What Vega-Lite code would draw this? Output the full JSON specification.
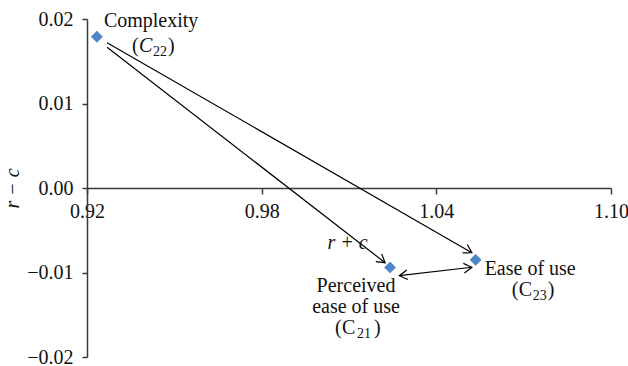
{
  "$schema": "https://vega.github.io/schema/vega-lite/v6.json",
  "width": 524,
  "height": 338,
  "autosize": {"type": "none"},
  "padding": {"left": 87, "top": 19, "right": 17, "bottom": 9},
  "background": "white",
  "config": {
    "view": {"stroke": null},
    "font": "Liberation Serif",
    "axis": {
      "labelFont": "Liberation Serif",
      "labelFontSize": 20,
      "labelColor": "#111111",
      "labelFlush": false,
      "labelOverlap": false,
      "domainColor": "#3a3a3a",
      "domainWidth": 1.5,
      "tickColor": "#3a3a3a",
      "tickWidth": 1.5,
      "grid": false,
      "titleFont": "Liberation Serif",
      "titleFontStyle": "italic",
      "titleFontWeight": "normal",
      "titleFontSize": 20,
      "titleColor": "#111111"
    }
  },
  "datasets": {
    "points": [
      {"name": "Complexity", "label": "Complexity", "code": "22", "x": 0.9234, "y": 0.0179},
      {"name": "Perceived ease of use", "label": "Perceived\nease of use", "code": "21", "x": 1.0241, "y": -0.0094},
      {"name": "Ease of use", "label": "Ease of use", "code": "23", "x": 1.0535, "y": -0.0085}
    ],
    "arrows": [
      {"from": "Complexity", "to": "Perceived ease of use", "line": true, "tx": 0.9269, "ty": 0.01665, "x": 1.0224, "y": -0.00884},
      {"from": "Complexity", "to": "Ease of use", "line": true, "tx": 0.9269, "ty": 0.0172, "x": 1.0522, "y": -0.00766},
      {"from": "Perceived ease of use", "to": "Ease of use", "line": true, "tx": 1.0273, "ty": -0.01038, "x": 1.0522, "y": -0.00938},
      {"from": "Ease of use", "to": "Perceived ease of use", "line": false, "tx": 1.0522, "ty": -0.00938, "x": 1.0273, "y": -0.01038}
    ]
  },
  "encoding": {
    "x": {
      "field": "x",
      "type": "quantitative",
      "scale": {"domain": [0.92, 1.10], "nice": false, "zero": false},
      "axis": {
        "values": [0.92, 0.98, 1.04, 1.10],
        "format": ".2f",
        "offset": -169,
        "tickSize": 6,
        "labelPadding": 7,
        "title": "r + c",
        "titleX": 260,
        "titleY": 60,
        "titleAlign": "center",
        "titleBaseline": "alphabetic"
      }
    },
    "y": {
      "field": "y",
      "type": "quantitative",
      "scale": {"domain": [-0.02, 0.02], "nice": false, "zero": false},
      "axis": {
        "values": [-0.02, -0.01, 0, 0.01, 0.02],
        "format": ".2f",
        "tickSize": 5,
        "labelPadding": 9,
        "title": "r − c",
        "titlePadding": 4
      }
    }
  },
  "layer": [
    {
      "data": {"name": "arrows"},
      "transform": [{"filter": "datum.line"}],
      "mark": {"type": "rule", "color": "black", "strokeWidth": 1.2},
      "encoding": {"x2": {"field": "tx"}, "y2": {"field": "ty"}}
    },
    {
      "data": {"name": "arrows"},
      "transform": [
        {"calculate": "atan2((datum.ty - datum.y) * 8450, (datum.x - datum.tx) * 2911) * 180 / PI", "as": "ang"}
      ],
      "mark": {"type": "point", "shape": "M-1,-0.6L0,0L-1,0.6", "filled": false, "stroke": "black", "strokeWidth": 1.2, "size": 256, "opacity": 1},
      "encoding": {
        "angle": {"field": "ang", "type": "quantitative", "scale": null}
      }
    },
    {
      "data": {"name": "points"},
      "mark": {"type": "point", "shape": "diamond", "filled": true, "color": "#4F86C6", "size": 140, "opacity": 1}
    },
    {
      "data": {"name": "points"},
      "transform": [{"filter": "datum.name == 'Complexity'"}],
      "layer": [
        {"mark": {"type": "text", "font": "Liberation Serif", "fontSize": 20, "color": "#111111", "baseline": "alphabetic", "align": "left", "dx": 7, "dy": -10}, "encoding": {"text": {"field": "label"}}},
        {"mark": {"type": "text", "font": "Liberation Serif", "fontSize": 20, "color": "#111111", "baseline": "alphabetic", "align": "left", "dx": 35, "dy": 15, "text": "("}},
        {"mark": {"type": "text", "font": "Liberation Serif", "fontSize": 20, "color": "#111111", "baseline": "alphabetic", "align": "left", "dx": 42, "dy": 15, "text": "C", "fontStyle": "italic"}},
        {"mark": {"type": "text", "font": "Liberation Serif", "fontSize": 14, "color": "#111111", "baseline": "alphabetic", "align": "left", "dx": 56, "dy": 19}, "encoding": {"text": {"field": "code"}}},
        {"mark": {"type": "text", "font": "Liberation Serif", "fontSize": 20, "color": "#111111", "baseline": "alphabetic", "align": "left", "dx": 71, "dy": 15, "text": ")"}}
      ]
    },
    {
      "data": {"name": "points"},
      "transform": [{"filter": "datum.name == 'Perceived ease of use'"}],
      "layer": [
        {"mark": {"type": "text", "font": "Liberation Serif", "fontSize": 20, "color": "#111111", "baseline": "alphabetic", "align": "center", "dx": -34, "dy": 25, "lineBreak": "\n", "lineHeight": 21}, "encoding": {"text": {"field": "label"}}},
        {"mark": {"type": "text", "font": "Liberation Serif", "fontSize": 20, "color": "#111111", "baseline": "alphabetic", "align": "left", "dx": -55, "dy": 67, "text": "("}},
        {"mark": {"type": "text", "font": "Liberation Serif", "fontSize": 20, "color": "#111111", "baseline": "alphabetic", "align": "left", "dx": -48, "dy": 67, "text": "C"}},
        {"mark": {"type": "text", "font": "Liberation Serif", "fontSize": 14, "color": "#111111", "baseline": "alphabetic", "align": "left", "dx": -33, "dy": 71}, "encoding": {"text": {"field": "code"}}},
        {"mark": {"type": "text", "font": "Liberation Serif", "fontSize": 20, "color": "#111111", "baseline": "alphabetic", "align": "left", "dx": -16, "dy": 67, "text": ")"}}
      ]
    },
    {
      "data": {"name": "points"},
      "transform": [{"filter": "datum.name == 'Ease of use'"}],
      "layer": [
        {"mark": {"type": "text", "font": "Liberation Serif", "fontSize": 20, "color": "#111111", "baseline": "alphabetic", "align": "left", "dx": 9, "dy": 15}, "encoding": {"text": {"field": "label"}}},
        {"mark": {"type": "text", "font": "Liberation Serif", "fontSize": 20, "color": "#111111", "baseline": "alphabetic", "align": "left", "dx": 36, "dy": 36, "text": "("}},
        {"mark": {"type": "text", "font": "Liberation Serif", "fontSize": 20, "color": "#111111", "baseline": "alphabetic", "align": "left", "dx": 43, "dy": 36, "text": "C"}},
        {"mark": {"type": "text", "font": "Liberation Serif", "fontSize": 14, "color": "#111111", "baseline": "alphabetic", "align": "left", "dx": 57, "dy": 40}, "encoding": {"text": {"field": "code"}}},
        {"mark": {"type": "text", "font": "Liberation Serif", "fontSize": 20, "color": "#111111", "baseline": "alphabetic", "align": "left", "dx": 72, "dy": 36, "text": ")"}}
      ]
    }
  ]
}
